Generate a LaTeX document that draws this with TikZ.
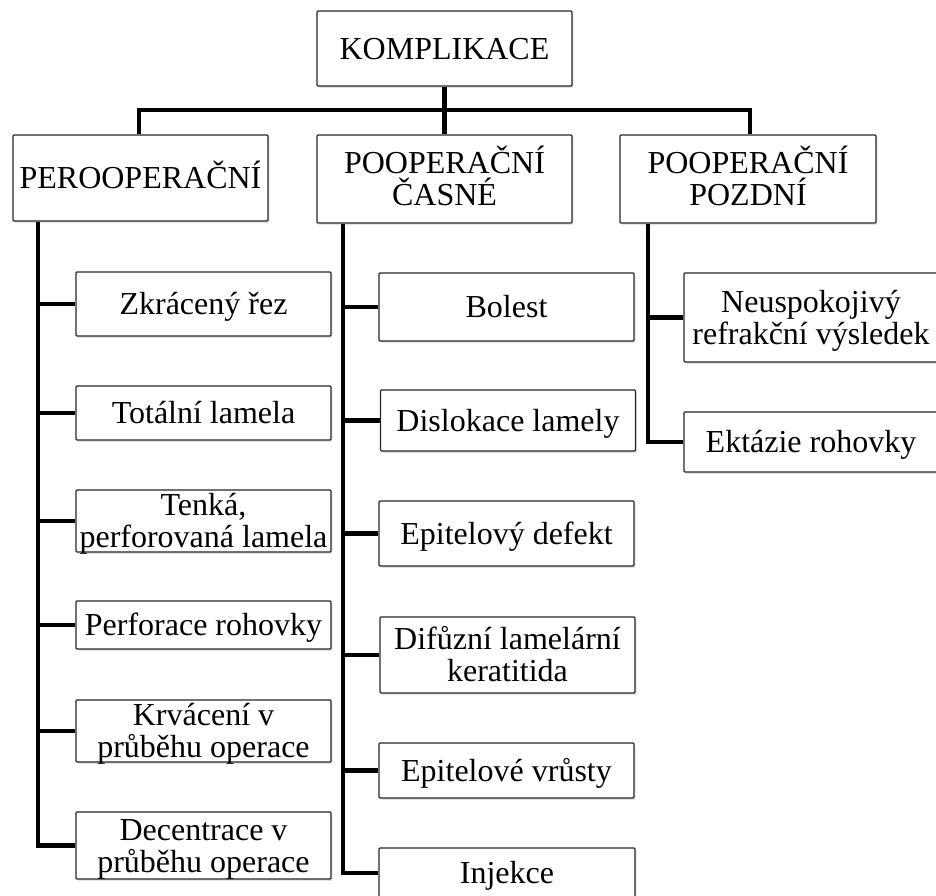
\documentclass[tikz,border=0pt]{standalone}
\usepackage{fontspec}
\setmainfont{Liberation Serif}
\usetikzlibrary{shadows}
\begin{document}
\begin{tikzpicture}[x=1pt,y=-1pt,
  box/.style={draw=black!85, line width=1.1pt, fill=white, rounded corners=1pt,
    inner sep=0pt, align=center, font=\fontsize{32}{32}\selectfont,
    text height=21.7pt, text depth=0pt,
    drop shadow={shadow xshift=1.5pt, shadow yshift=-2pt, opacity=0.22}},
  two/.style={text height=53.7pt, text depth=0pt},
  conn/.style={line width=4.5pt, black}]
\useasboundingbox (0,0) rectangle (936,895);
\clip (0,0) rectangle (936,895);

% top levels
\node[box, minimum width=255pt, minimum height=75pt] (top) at (444.5,48.5) {KOMPLIKACE};
\node[box, minimum width=255pt, minimum height=86pt] (peri) at (140.5,178) {PEROOPERAČNÍ};
\node[box, two, minimum width=255pt, minimum height=88pt] (early) at (444.5,179) {POOPERAČNÍ\\ČASNÉ};
\node[box, two, minimum width=256pt, minimum height=88pt] (late) at (748,179) {POOPERAČNÍ\\POZDNÍ};

% left column
\node[box, minimum width=255pt, minimum height=64pt] (zk) at (203.5,304) {Zkrácený řez};
\node[box, minimum width=255pt, minimum height=54pt] (tot) at (203.5,413) {Totální lamela};
\node[box, two, minimum width=255pt, minimum height=62pt] (ten) at (203.5,521) {Tenká,\\perforovaná lamela};
\node[box, minimum width=255pt, minimum height=48pt] (perf) at (203.5,625) {Perforace rohovky};
\node[box, two, minimum width=255pt, minimum height=62pt] (krv) at (203.5,731) {Krvácení v\\průběhu operace};
\node[box, two, minimum width=255pt, minimum height=67pt] (dec) at (203.5,845.5) {Decentrace v\\průběhu operace};

% middle column
\node[box, minimum width=255pt, minimum height=68pt] (bol) at (506.5,307) {Bolest};
\node[box, minimum width=255pt, minimum height=61pt] (dis) at (508,420.5) {Dislokace lamely};
\node[box, minimum width=255pt, minimum height=65pt] (epd) at (506.5,533.5) {Epitelový defekt};
\node[box, two, minimum width=255pt, minimum height=76pt] (dif) at (507.5,655) {Difůzní lamelární\\keratitida};
\node[box, minimum width=255pt, minimum height=55pt] (epv) at (506.5,770.5) {Epitelové vrůsty};
\node[box, minimum width=256pt, minimum height=50pt] (inj) at (507,873) {Injekce};

% right column
\node[box, two, minimum width=254pt, minimum height=89pt] (neu) at (811,317.5) {Neuspokojivý\\refrakční výsledek};
\node[box, minimum width=254pt, minimum height=60pt] (ekt) at (811,442) {Ektázie rohovky};

% connectors: top level
\coordinate (bl) at (139,110);
\coordinate (br) at (750,110);
\draw[conn] (bl |- peri.north) -- (bl) -- (br) -- (br |- late.north);
\draw[conn] (top.south) -- (early.north);

% spines
\coordinate (sl) at (38,0);
\coordinate (sm) at (343,0);
\coordinate (sr) at (648,0);

\draw[conn] (sl |- peri.south) |- (dec.west);
\foreach \n in {zk,tot,ten,perf,krv}
  \draw[conn] (sl |- \n.west) -- (\n.west);

\draw[conn] (sm |- early.south) |- (inj.west);
\foreach \n in {bol,dis,epd,dif,epv}
  \draw[conn] (sm |- \n.west) -- (\n.west);

\draw[conn] (sr |- late.south) |- (ekt.west);
\draw[conn] (sr |- neu.west) -- (neu.west);
\end{tikzpicture}
\end{document}
